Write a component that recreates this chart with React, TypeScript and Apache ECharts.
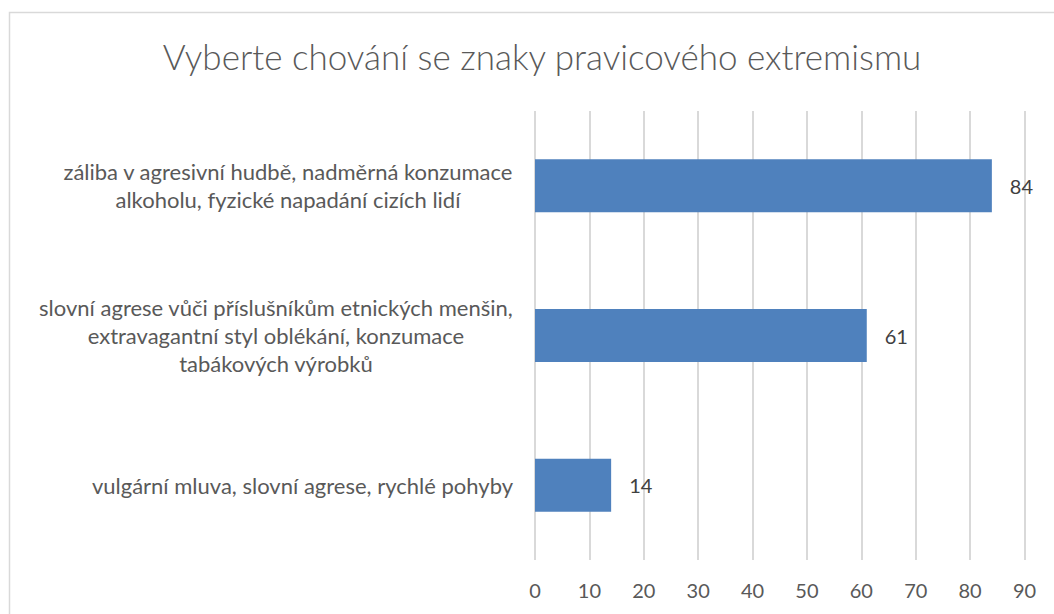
import React, { useEffect, useRef } from "react";
import * as echarts from "echarts";

const titleText = "Vyberte chování se znaky pravicového extremismu";
const categories = [
  "záliba v agresivní hudbě, nadměrná konzumace\nalkoholu, fyzické napadání cizích lidí",
  "slovní agrese vůči příslušníkům etnických menšin,\nextravagantní styl oblékání, konzumace\ntabákových výrobků",
  "vulgární mluva, slovní agrese, rychlé pohyby",
];
const values = [84, 61, 14];
const axisMin = 0;
const axisMax = 90;
const axisInterval = 10;

const FONT = "Lato, 'Open Sans', sans-serif";
const TEXT = "#595959";

export default function App() {
  const ref = useRef<HTMLDivElement>(null);
  useEffect(() => {
    if (!ref.current) return;
    const chart = echarts.init(ref.current, undefined, { renderer: "svg" });
    chart.setOption({
      animation: false,
      backgroundColor: "#ffffff",
      title: {
        text: titleText,
        left: 537,
        top: 33,
        textAlign: "center",
        textStyle: { fontFamily: FONT, fontSize: 35, fontWeight: 300, color: TEXT },
      },
      graphic: [
        {
          type: "rect",
          shape: { x: 9.5, y: 12.5, width: 1100, height: 700 },
          style: { fill: "none", stroke: "#d9d9d9", lineWidth: 1.5 },
          silent: true,
        },
      ],
      grid: { left: 535, right: 29.5, top: 111, bottom: 54 },
      xAxis: {
        type: "value",
        min: axisMin,
        max: axisMax,
        interval: axisInterval,
        axisLine: { show: false },
        axisTick: { show: false },
        splitLine: { show: true, lineStyle: { color: "#d9d9d9", width: 2 } },
        axisLabel: { fontFamily: FONT, fontSize: 20, color: TEXT, margin: 20 },
      },
      yAxis: {
        type: "category",
        data: categories,
        inverse: true,
        axisLine: { show: false },
        axisTick: { show: false },
        axisLabel: {
          margin: 22,
          align: "right",
          formatter: (v: string) => v.split("\n").map((l) => `{c|${l}}`).join("\n"),
          rich: {
            c: { fontFamily: FONT, fontSize: 22, color: TEXT, align: "center", lineHeight: 28 },
          },
        },
      },
      series: [
        {
          type: "bar",
          data: values,
          barWidth: 53,
          itemStyle: { color: "#4f81bd" },
          label: {
            show: true,
            position: "right",
            distance: 18,
            fontFamily: FONT,
            fontSize: 20,
            color: "#404040",
          },
        },
      ],
    });
    return () => chart.dispose();
  }, []);
  return (
    <div
      ref={ref}
      style={{ position: "absolute", left: 0, top: 0, width: 1054, height: 614 }}
    />
  );
}
